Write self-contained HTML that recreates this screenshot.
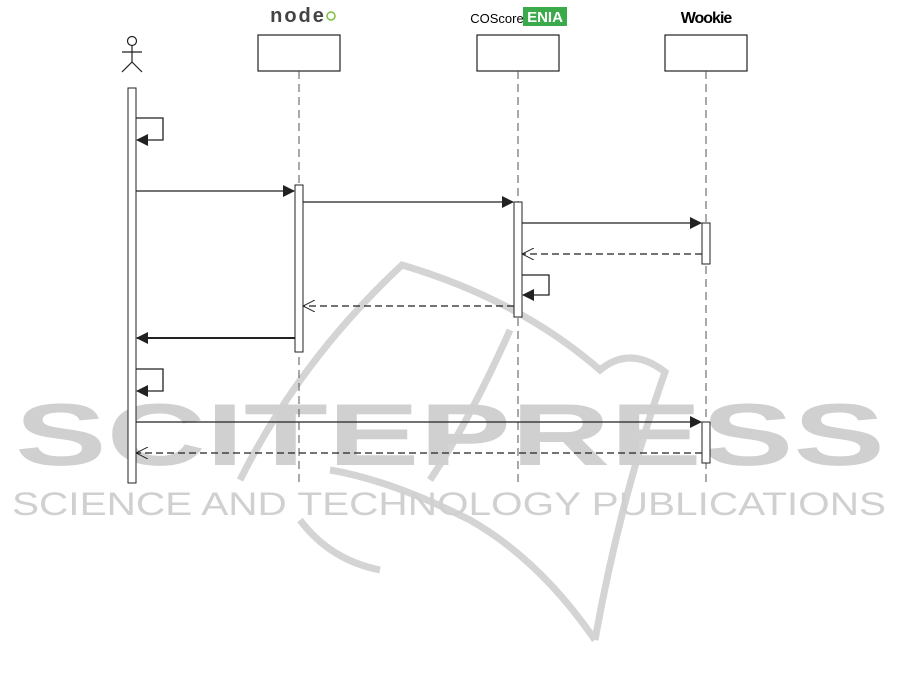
<!DOCTYPE html>
<html><head><style>body{margin:0;background:#fff}</style></head><body>
<svg width="901" height="690" xmlns="http://www.w3.org/2000/svg" style="display:block">
<defs>
<marker id="f" markerWidth="12" markerHeight="12" refX="11" refY="6" orient="auto" markerUnits="userSpaceOnUse"><path d="M0,0 L12,6 L0,12 z" fill="#222"/></marker>
<marker id="o" markerWidth="12" markerHeight="12" refX="11" refY="6" orient="auto" markerUnits="userSpaceOnUse"><path d="M0,0 L12,6 L0,12" fill="none" stroke="#222"/></marker>
</defs>
<!-- watermark -->
<g fill="none" stroke="#d4d4d4" stroke-width="7">
<path d="M240,480 Q300,360 402,265 Q520,300 600,370 Q630,345 665,372 Q620,500 595,640"/>
<path d="M595,640 Q540,560 470,520 Q390,480 330,470"/>
<path d="M300,520 Q330,560 380,570"/>
<path d="M510,330 Q470,420 430,480"/>
</g>
<text x="15" y="465" textLength="870" lengthAdjust="spacingAndGlyphs" font-family="Liberation Sans,sans-serif" font-size="88" font-weight="bold" fill="#d0d0d0">SCITEPRESS</text>
<text x="12" y="515" textLength="874" lengthAdjust="spacingAndGlyphs" font-family="Liberation Sans,sans-serif" font-size="32" fill="#d0d0d0">SCIENCE AND TECHNOLOGY PUBLICATIONS</text>
<!-- headers -->
<text x="298" y="22" text-anchor="middle" font-family="Liberation Sans,sans-serif" font-size="20" font-weight="bold" fill="#444" letter-spacing="2">node</text>
<circle cx="331" cy="16" r="4" fill="none" stroke="#7bc043" stroke-width="1.5"/>
<text x="497" y="23" text-anchor="middle" font-family="Liberation Sans,sans-serif" font-size="13">COScore</text>
<rect x="523" y="7" width="44" height="19" fill="#3aaa4a"/>
<text x="545" y="22" text-anchor="middle" font-family="Liberation Sans,sans-serif" font-size="15" font-weight="bold" fill="#fff">ENIA</text>
<text x="706" y="23" text-anchor="middle" font-family="Liberation Sans,sans-serif" font-size="16" font-weight="bold" letter-spacing="-1">Wookie</text>
<g stroke="#222" fill="#fff" stroke-width="1.2">
<rect x="258" y="35" width="82" height="36"/>
<rect x="477" y="35" width="82" height="36"/>
<rect x="665" y="35" width="82" height="36"/>
</g>
<!-- actor -->
<g stroke="#222" fill="none" stroke-width="1.2">
<circle cx="132" cy="41" r="4.5"/>
<line x1="132" y1="46" x2="132" y2="62"/><line x1="122" y1="52" x2="142" y2="52"/>
<line x1="132" y1="62" x2="122" y2="72"/><line x1="132" y1="62" x2="142" y2="72"/>
</g>
<!-- lifelines -->
<g stroke="#555" stroke-dasharray="8,5">
<line x1="299" y1="71" x2="299" y2="483"/><line x1="518" y1="71" x2="518" y2="483"/><line x1="706" y1="71" x2="706" y2="483"/>
</g>
<g stroke="#222" fill="#fff">
<rect x="128" y="88" width="8" height="395"/>
<rect x="295" y="185" width="8" height="167"/>
<rect x="514" y="202" width="8" height="115"/>
<rect x="702" y="223" width="8" height="41"/>
<rect x="702" y="422" width="8" height="41"/>
</g>
<g stroke="#222" fill="none" stroke-width="1.3">
<path d="M136,118 H163 V140 H137" marker-end="url(#f)"/>
<line x1="136" y1="191" x2="294" y2="191" marker-end="url(#f)"/>
<line x1="303" y1="202" x2="513" y2="202" marker-end="url(#f)"/>
<line x1="522" y1="223" x2="701" y2="223" marker-end="url(#f)"/>
<line x1="702" y1="254" x2="523" y2="254" stroke-dasharray="7,4" marker-end="url(#o)"/>
<path d="M522,275 H549 V295 H523" marker-end="url(#f)"/>
<line x1="514" y1="306" x2="304" y2="306" stroke-dasharray="7,4" marker-end="url(#o)"/>
<line x1="295" y1="338" x2="137" y2="338" stroke-width="2" marker-end="url(#f)"/>
<path d="M136,369 H163 V391 H137" marker-end="url(#f)"/>
<line x1="136" y1="422" x2="701" y2="422" marker-end="url(#f)"/>
<line x1="702" y1="453" x2="137" y2="453" stroke-dasharray="7,4" marker-end="url(#o)"/>
</g>
</svg>
</body></html>
